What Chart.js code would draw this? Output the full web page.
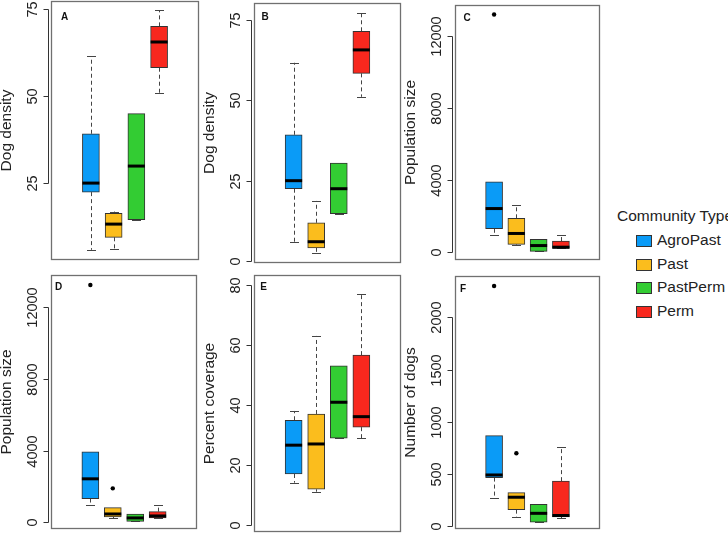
<!DOCTYPE html>
<html>
<head>
<meta charset="utf-8">
<script src="https://cdn.jsdelivr.net/npm/chart.js@4.4.1/dist/chart.umd.min.js"></script>
<style>
  body { margin: 0; background: #fff; width: 728px; height: 536px; overflow: hidden; position: relative; font-family: "Liberation Sans", Arial, sans-serif; }
  #legend { position: absolute; left: 617px; top: 207px; font-size: 15.5px; color: #222; }
  #legend .ttl { position: absolute; left: 0; top: 0; white-space: nowrap; }
  #legend .item { position: absolute; left: 19px; height: 20px; white-space: nowrap; }
  #legend .sw { position: absolute; left: 0; top: 4px; width: 14px; height: 10px; border: 1px solid #333; }
  #legend .lb { position: absolute; left: 21px; top: 0; }
</style>
</head>
<body>
<div id="legend"></div>
<script>
// categories and colours
const categories = ['AgroPast', 'Past', 'PastPerm', 'Perm'];
const catColors = ['#0A9BF7', '#FBBD1D', '#33CC33', '#F8281E'];

// five-number summaries per category: [lower whisker, Q1, median, Q3, upper whisker]
const densityA = [[5.8, 22.4, 25.0, 39.2, 61.5], [6.1, 9.4, 13.2, 16.3, 16.8], [14.5, 14.5, 29.9, 45.0, 45.0], [50.9, 58.2, 65.6, 70.1, 74.7]];
const densityB = [[6.0, 22.5, 25.0, 39.3, 61.7], [2.5, 4.1, 6.0, 11.9, 18.7], [14.7, 14.7, 22.5, 30.5, 30.5], [51.1, 58.4, 65.7, 71.5, 77.3]];
const popSizeC = [[980, 1310, 2430, 3910, 3910], [420, 450, 1050, 1890, 2650], [55, 55, 380, 725, 725], [220, 220, 290, 630, 980]];
const popSizeD = [[950, 1330, 2430, 3930, 3930], [240, 310, 470, 820, 820], [55, 55, 250, 470, 470], [250, 250, 360, 600, 950]];
const coverageE = [[14.1, 17.0, 26.6, 34.9, 38.0], [11.1, 11.9, 27.0, 37.0, 63.0], [28.9, 28.9, 40.9, 53.0, 53.0], [28.9, 32.6, 36.1, 56.6, 77.1]];
const dogsF = [[276, 467, 492, 869, 869], [90, 160, 279, 323, 323], [40, 40, 125, 210, 210], [78, 90, 104, 433, 763]];

// outliers per category
const outA = [[], [], [], []];
const outB = [[], [], [], []];
const outC = [[13180], [], [], []];
const outD = [[13240], [1900], [], []];
const outE = [[], [], [], []];
const outF = [[2300], [700], [], []];

// tick labels
const densityTicksA = [25, 50, 75];
const densityTicksB = [0, 25, 50, 75];
const popTicks = [0, 4000, 8000, 12000];
const coverageTicks = [0, 20, 40, 60, 80];
const dogsTicks = [0, 500, 1000, 1500, 2000];

const panels = [
  { letter: 'A', title: 'Dog density', stats: densityA, out: outA, ticks: densityTicksA, min: 2.87, max: 77.4, rect: [51, 1, 199, 260], lp: [13.5, 16] },
  { letter: 'B', title: 'Dog density', stats: densityB, out: outB, ticks: densityTicksB, min: -0.62, max: 80.3, rect: [254, 3, 401, 263], lp: [11, 14] },
  { letter: 'C', title: 'Population size', stats: popSizeC, out: outC, ticks: popTicks, min: -420, max: 13707, rect: [455, 3, 602, 262], lp: [12, 13] },
  { letter: 'D', title: 'Population size', stats: popSizeD, out: outD, ticks: popTicks, min: -368, max: 13795, rect: [51, 273, 199, 531], lp: [7.5, 12] },
  { letter: 'E', title: 'Percent coverage', stats: coverageE, out: outE, ticks: coverageTicks, min: -2.33, max: 83.3, rect: [254, 275, 401, 532], lp: [9.5, 12] },
  { letter: 'F', title: 'Number of dogs', stats: dogsF, out: outF, ticks: dogsTicks, min: -25, max: 2396, rect: [455, 274, 602, 531], lp: [8, 13] }
];

const FONT = '"Liberation Sans", Arial, sans-serif';
const BOXW = 17;

function extras(p) {
  return {
    id: 'boxExtras' + p.letter,
    beforeDatasetsDraw(chart) {
      const ctx = chart.ctx, x = chart.scales.x, y = chart.scales.y;
      ctx.save();
      ctx.strokeStyle = '#444';
      ctx.lineWidth = 1;
      p.stats.forEach((s, i) => {
        const cx = Math.round(x.getPixelForValue(i + 1)) + 0.5;
        // dashed whiskers
        ctx.setLineDash([4, 3]);
        ctx.beginPath();
        ctx.moveTo(cx, y.getPixelForValue(s[3]));
        ctx.lineTo(cx, y.getPixelForValue(s[4]));
        ctx.moveTo(cx, y.getPixelForValue(s[1]));
        ctx.lineTo(cx, y.getPixelForValue(s[0]));
        ctx.stroke();
        // caps
        ctx.setLineDash([]);
        ctx.beginPath();
        [s[0], s[4]].forEach(v => {
          const py = Math.round(y.getPixelForValue(v)) + 0.5;
          ctx.moveTo(cx - 4.5, py);
          ctx.lineTo(cx + 4.5, py);
        });
        ctx.stroke();
      });
      ctx.restore();
    },
    afterDatasetsDraw(chart) {
      const ctx = chart.ctx, x = chart.scales.x, y = chart.scales.y, a = chart.chartArea;
      ctx.save();
      // medians
      ctx.strokeStyle = '#000';
      ctx.lineWidth = 3;
      p.stats.forEach((s, i) => {
        const cx = x.getPixelForValue(i + 1);
        const py = y.getPixelForValue(s[2]);
        ctx.beginPath();
        ctx.moveTo(cx - BOXW / 2, py);
        ctx.lineTo(cx + BOXW / 2, py);
        ctx.stroke();
      });
      // frame
      ctx.strokeStyle = '#707070';
      ctx.lineWidth = 1.3;
      ctx.strokeRect(a.left + 0.5, a.top + 0.5, a.right - a.left - 1, a.bottom - a.top - 1);
      // y axis line + ticks
      ctx.strokeStyle = '#333';
      ctx.lineWidth = 1;
      const ax = a.left - 2.5;
      const ys = p.ticks.map(v => Math.round(y.getPixelForValue(v)) + 0.5);
      ctx.beginPath();
      ctx.moveTo(ax, ys[0]);
      ctx.lineTo(ax, ys[ys.length - 1]);
      ys.forEach(py => { ctx.moveTo(ax - 5, py); ctx.lineTo(ax, py); });
      ctx.stroke();
      // tick labels (rotated)
      ctx.fillStyle = '#222';
      ctx.font = '14.5px ' + FONT;
      ctx.textAlign = 'center';
      ctx.textBaseline = 'middle';
      p.ticks.forEach((v, k) => {
        ctx.save();
        ctx.translate(a.left - 18, ys[k]);
        ctx.rotate(-Math.PI / 2);
        ctx.fillText(String(v), 0, 0);
        ctx.restore();
      });
      // axis title
      ctx.save();
      ctx.font = '15.5px ' + FONT;
      ctx.translate(a.left - 44, (a.top + a.bottom) / 2);
      ctx.rotate(-Math.PI / 2);
      ctx.fillText(p.title, 0, 0);
      ctx.restore();
      // panel letter
      ctx.font = 'bold 10px ' + FONT;
      ctx.fillStyle = '#111';
      ctx.fillText(p.letter, a.left + p.lp[0], a.top + p.lp[1]);
      ctx.restore();
    }
  };
}

panels.forEach(p => {
  const [l, t, r, b] = p.rect;
  const w = r - l + 54, h = b - t + 4;
  const cv = document.createElement('canvas');
  cv.width = w; cv.height = h;
  cv.style.cssText = `position:absolute;left:${l - 52}px;top:${t - 2}px;width:${w}px;height:${h}px`;
  document.body.appendChild(cv);

  const outPts = [];
  p.out.forEach((list, i) => list.forEach(v => outPts.push({ x: i + 1, y: v })));

  new Chart(cv, {
    type: 'bar',
    data: {
      datasets: [
        {
          data: p.stats.map((s, i) => ({ x: i + 1, y: [s[1], s[3]] })),
          backgroundColor: catColors,
          borderColor: '#333',
          borderWidth: 1,
          borderSkipped: false,
          barThickness: BOXW
        },
        {
          type: 'scatter',
          data: outPts,
          pointRadius: 2.2,
          backgroundColor: '#000',
          borderWidth: 0
        }
      ]
    },
    options: {
      responsive: false,
      animation: false,
      events: [],
      layout: { padding: { left: 52, right: 2, top: 2, bottom: 2 } },
      plugins: { legend: { display: false }, tooltip: { enabled: false } },
      scales: {
        x: { type: 'linear', min: 0.33, max: 4.67, display: false },
        y: { type: 'linear', min: p.min, max: p.max, display: false }
      }
    },
    plugins: [extras(p)]
  });
});

// legend
const leg = document.getElementById('legend');
leg.innerHTML = '<div class="ttl">Community Type</div>' + categories.map((c, i) =>
  `<div class="item" style="top:${24 + i * 23.5}px"><div class="sw" style="background:${catColors[i]}"></div><div class="lb">${c}</div></div>`
).join('');
</script>
</body>
</html>
